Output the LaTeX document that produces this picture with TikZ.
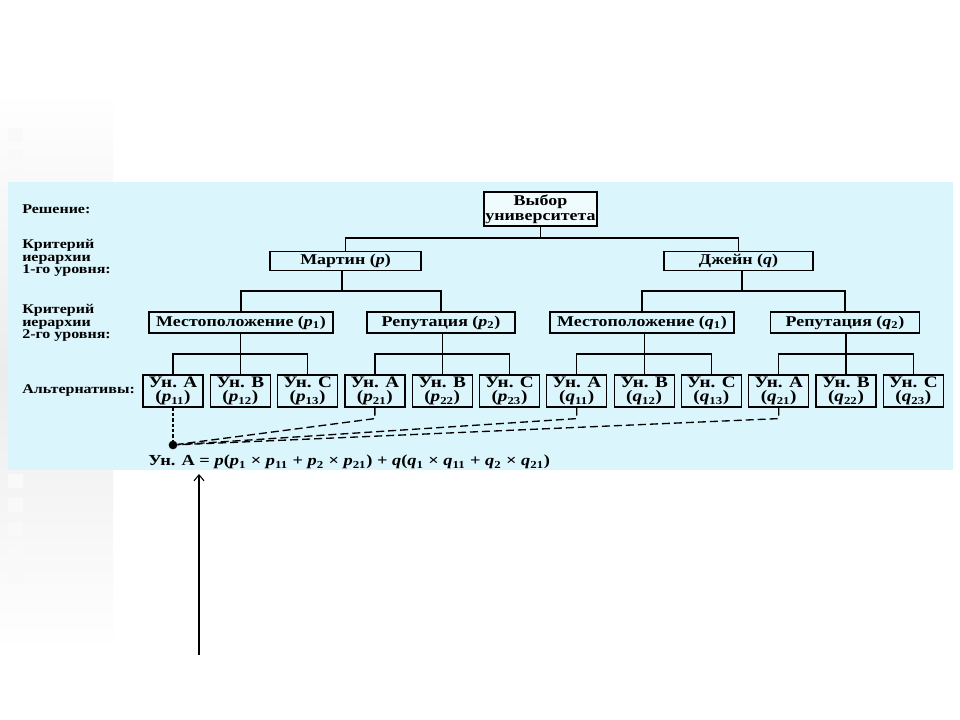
\documentclass[tikz,border=0pt]{standalone}
\usepackage{fontspec}
\setmainfont{Liberation Serif}[FakeStretch=1.2]
\usetikzlibrary{arrows.meta}
\definecolor{panel}{RGB}{218,245,252}
\definecolor{stripe}{RGB}{236,236,236}
\newcommand\vv[2]{\textit{#1}\textsubscript{#2}}
\tikzset{
  lbl/.style={anchor=west, align=left, inner sep=0pt, font=\fontsize{10}{9.5}\selectfont\bfseries},
  crit/.style={draw, line width=0.9pt, inner sep=0pt, minimum height=14.25pt, font=\fontsize{11.2}{12}\selectfont\bfseries},
  leaf/.style={draw, line width=0.9pt, inner sep=0pt, minimum width=45pt, minimum height=24pt, align=center, font=\fontsize{12}{11}\selectfont\bfseries},
  tree/.style={line width=0.9pt},
  dashline/.style={line width=1pt, dash pattern=on 6pt off 3pt},
  dotline/.style={line width=1.2pt, dash pattern=on 2.5pt off 1.5pt},
  dotstyle/.style={circle, fill=black, inner sep=0pt, minimum size=6.5pt}
}
\begin{document}
\begin{tikzpicture}[x=0.75pt, y=-0.75pt]
\useasboundingbox (0,0) rectangle (960,720);
\fill[white] (0,0) rectangle (960,720);
% left decorative stripe
\shade[top color=white, bottom color=white, middle color=stripe] (0,90) rectangle (113,650);
\foreach \yy in {128,150,166,474,498,522,546,570} {\fill[white!70!stripe] (8,\yy) rectangle (23,\yy+14);}
% panel
\fill[panel] (8,182) rectangle (953,470);

% left labels
\node[lbl] (lsol) at (22,209) {Решение:};
\node[lbl] (lc1) at (22,258) {Критерий\\иерархии\\1-го уровня:};
\node[lbl] (lc2) at (22,323) {Критерий\\иерархии\\2-го уровня:};
\node[lbl] (lalt) at (22,391) {Альтернативы:};

% root
\node[draw, line width=0.9pt, fill=white!60!panel, inner sep=0pt, minimum width=84.75pt, minimum height=25.5pt, align=center,
      font=\fontsize{11.2}{11.5}\selectfont\bfseries] (root) at (540.5,209) {Выбор\\университета};
% level 1
\node[crit, minimum width=113.25pt] (martin) at (345.5,261) {Мартин (\textit{p})};
\node[crit, minimum width=111.75pt] (jane) at (738.5,261) {Джейн (\textit{q})};
% level 2
\node[crit, minimum width=138pt, minimum height=15.75pt] (locp) at (241,322.5) {Местоположение (\vv{p}{1})};
\node[crit, minimum width=111pt, minimum height=15.75pt] (repp) at (441,322.5) {Репутация (\vv{p}{2})};
\node[crit, minimum width=138pt, minimum height=15.75pt] (locq) at (642,322.5) {Местоположение (\vv{q}{1})};
\node[crit, minimum width=111.75pt, minimum height=15.75pt] (repq) at (845,322.5) {Репутация (\vv{q}{2})};
% leaves
\node[leaf] (l1) at (173,391) {Ун. А\\(\vv{p}{11})};
\node[leaf] (l2) at (240.3,391) {Ун. В\\(\vv{p}{12})};
\node[leaf] (l3) at (307.6,391) {Ун. С\\(\vv{p}{13})};
\node[leaf] (l4) at (374.9,391) {Ун. А\\(\vv{p}{21})};
\node[leaf] (l5) at (442.2,391) {Ун. В\\(\vv{p}{22})};
\node[leaf] (l6) at (509.5,391) {Ун. С\\(\vv{p}{23})};
\node[leaf] (l7) at (576.8,391) {Ун. А\\(\vv{q}{11})};
\node[leaf] (l8) at (644.1,391) {Ун. В\\(\vv{q}{12})};
\node[leaf] (l9) at (711.4,391) {Ун. С\\(\vv{q}{13})};
\node[leaf] (l10) at (778.7,391) {Ун. А\\(\vv{q}{21})};
\node[leaf] (l11) at (846,391) {Ун. В\\(\vv{q}{22})};
\node[leaf] (l12) at (913.3,391) {Ун. С\\(\vv{q}{23})};

% tree connectors
\coordinate (j0) at (540.5,238);
\draw[tree] (root.south) -- (j0);
\draw[tree] (j0) -| (martin.north);
\draw[tree] (j0) -| (jane.north);
\coordinate (jm) at (342,291);
\coordinate (jj) at (742,291);
\draw[tree] (martin.south -| jm) -- (jm);
\draw[tree] (jane.south -| jj) -- (jj);
\draw[tree] (jm) -| (locp.north);
\draw[tree] (jm) -| (repp.north);
\draw[tree] (jj) -| (locq.north);
\draw[tree] (jj) -| (repq.north);
\coordinate (k1) at (240.3,354);
\coordinate (k2) at (442.2,354);
\coordinate (k3) at (644.1,354);
\coordinate (k4) at (846,354);
\draw[tree] (locp.south -| k1) -- (k1);
\draw[tree] (repp.south -| k2) -- (k2);
\draw[tree] (locq.south -| k3) -- (k3);
\draw[tree] (repq.south -| k4) -- (k4);
\draw[tree] (k1) -| (l1.north); \draw[tree] (k1) -- (l2.north); \draw[tree] (k1) -| (l3.north);
\draw[tree] (k2) -| (l4.north); \draw[tree] (k2) -- (l5.north); \draw[tree] (k2) -| (l6.north);
\draw[tree] (k3) -| (l7.north); \draw[tree] (k3) -- (l8.north); \draw[tree] (k3) -| (l9.north);
\draw[tree] (k4) -| (l10.north); \draw[tree] (k4) -- (l11.north); \draw[tree] (k4) -| (l12.north);

% dashed aggregation
\node[dotstyle] (dot) at (173,445) {};
\draw[dotline] (l1.south) -- (dot);
\draw[dashline] (l4.south) -- ++(0,11) -- (dot);
\draw[dashline] (l7.south) -- ++(0,11) -- (dot);
\draw[dashline] (l10.south) -- ++(0,11) -- (dot);

% formula
\node[anchor=west, inner sep=0pt, font=\fontsize{11.5}{12}\selectfont\bfseries] (formula) at (148,462)
  {Ун. А = \textit{p}(\vv{p}{1} × \vv{p}{11} + \vv{p}{2} × \vv{p}{21}) + \textit{q}(\vv{q}{1} × \vv{q}{11} + \vv{q}{2} × \vv{q}{21})};

% arrow
\coordinate (atail) at (199,655);
\coordinate (ahead) at (199,474);
\draw[line width=0.8pt, -{Straight Barb[length=4.5pt, width=7.5pt]}] (atail) -- (ahead);
\end{tikzpicture}
\end{document}
